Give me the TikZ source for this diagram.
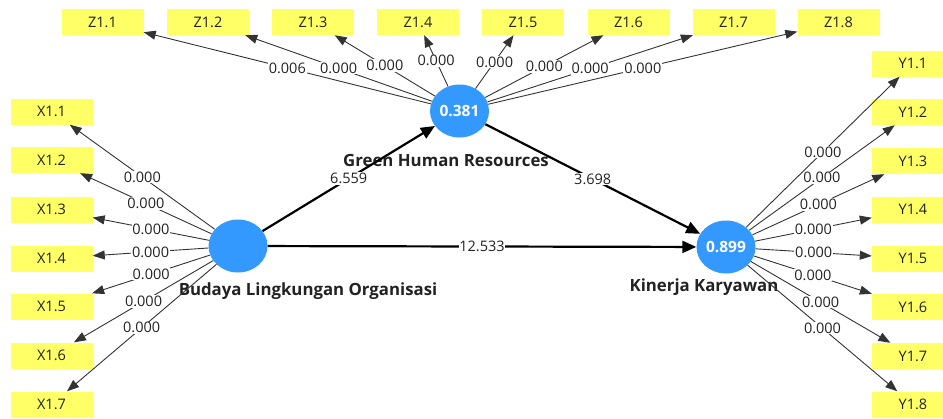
\documentclass[tikz,border=0pt]{standalone}
\usepackage{fontspec}
\setmainfont{Open Sans}
\usetikzlibrary{arrows.meta,shapes.geometric}
\definecolor{boxyellow}{HTML}{FFFF66}
\definecolor{lvblue}{HTML}{3399FF}
\definecolor{txt}{HTML}{222222}
\begin{document}
\begin{tikzpicture}[x=1pt,y=-1pt,
  indbox/.style={fill=boxyellow, minimum width=82pt, minimum height=26pt, inner sep=0pt, text=txt, font=\fontsize{14.5}{16}\selectfont},
  lv/.style={ellipse, fill=lvblue, inner sep=0pt, minimum width=59pt, minimum height=53pt, text=white, font=\bfseries\fontsize{15.5}{17}\selectfont},
  lvname/.style={font=\bfseries\fontsize{16.8}{19}\selectfont, text=txt, inner sep=0pt},
  outer/.style={draw=black!80, line width=0.9pt, -{Triangle[length=12pt,width=9pt]}},
  innerp/.style={draw=black, line width=2.2pt, -{Triangle[length=14pt,width=12pt]}},
  coef/.style={fill=white, inner sep=0.8pt, text=txt, font=\fontsize{14.5}{16}\selectfont}
]
\useasboundingbox (0,0) rectangle (943,418);
\clip (0,0) rectangle (943,418);
% indicator boxes
\foreach \i/\xx in {1/102.5,2/208,3/313,4/418,5/523,6/628.5,7/733.5,8/838.5}
  \node[indbox] (z\i) at (\xx,22) {Z1.\i};
\foreach \i/\yy in {1/111.5,2/160,3/209.5,4/258.5,5/306.5,6/355.5,7/404.5}
  \node[indbox] (x\i) at (51.5,\yy) {X1.\i};
\foreach \i/\yy in {1/63.5,2/112,3/161,4/209.5,5/258.5,6/307,7/356,8/404.5}
  \node[indbox] (y\i) at (913,\yy) {Y1.\i};
% latent variables
\node[lv] (blo) at (238,246) {};
\node[lv] (ghr) at (459.5,111) {0.381};
\node[lv] (kk) at (726,247) {0.899};
\node[lvname] (nghr) at (446,160) {Green Human Resources};
\node[lvname] (nblo) at (308,291) {Budaya Lingkungan Organisasi};
\node[lvname] (nkk) at (704,287) {Kinerja Karyawan};
% outer arrows
\foreach \i in {1,...,8} \draw[outer] (ghr) -- (z\i);
\foreach \i in {1,...,7} \draw[outer] (blo) -- (x\i);
\foreach \i in {1,...,8} \draw[outer] (kk) -- (y\i);
% inner arrows
\draw[innerp] (blo) -- (ghr);
\draw[innerp] (ghr) -- (kk);
\draw[innerp] (blo) -- (kk);
% coefficients
\foreach \i/\v in {1/0.006,2/0.000,3/0.000,4/0.000,5/0.000,6/0.000,7/0.000,8/0.000}
  \path (ghr) -- (z\i) node[coef, midway] {\v};
\foreach \i in {1,...,7}
  \path (blo) -- (x\i) node[coef, midway] {0.000};
\foreach \i in {1,...,8}
  \path (kk) -- (y\i) node[coef, midway] {0.000};
\path (blo) -- (ghr) node[coef, midway] {6.559};
\path (ghr) -- (kk) node[coef, midway] {3.698};
\path (blo) -- (kk) node[coef, midway] {12.533};
\end{tikzpicture}
\end{document}
